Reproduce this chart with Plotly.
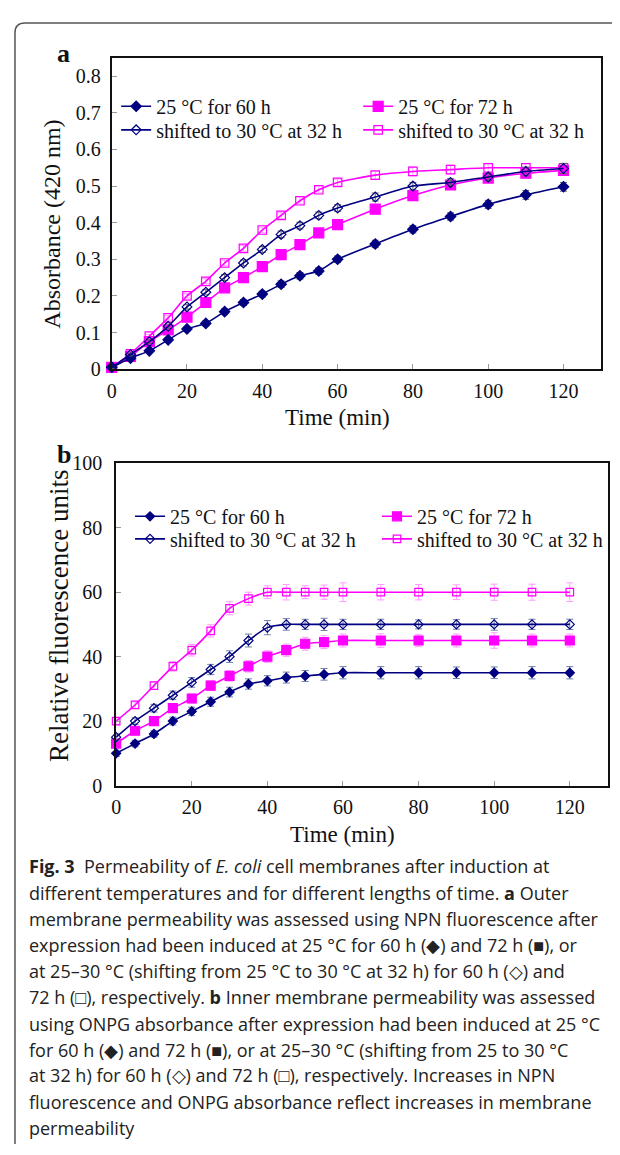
import plotly.graph_objects as go

# The page body has an 8 px default margin, so the figure is made 8 px smaller and
# every reference pixel position is shifted by 8 px.
OFF = 8
W, H = 620 - OFF, 1155 - OFF

# ---------------- data ----------------
time_min = [0, 5, 10, 15, 20, 25, 30, 35, 40, 45, 50, 55, 60, 70, 80, 90, 100, 110, 120]
series_names = ["25 °C for 60 h", "25 °C for 72 h",
                "shifted to 30 °C at 32 h", "shifted to 30 °C at 32 h"]

# panel a: absorbance (420 nm)
a_25c_60h = [0.005, 0.030, 0.050, 0.080, 0.110, 0.125, 0.157, 0.182, 0.205, 0.232, 0.255, 0.268,
             0.300, 0.342, 0.382, 0.417, 0.450, 0.476, 0.498]
a_25c_72h = [0.005, 0.035, 0.075, 0.107, 0.142, 0.182, 0.222, 0.250, 0.280, 0.313, 0.340, 0.372,
             0.395, 0.437, 0.474, 0.503, 0.522, 0.535, 0.543]
a_shift_60h = [0.005, 0.040, 0.075, 0.117, 0.170, 0.210, 0.250, 0.290, 0.327, 0.368, 0.392, 0.420,
               0.440, 0.470, 0.500, 0.510, 0.525, 0.540, 0.548]
a_shift_72h = [0.005, 0.042, 0.090, 0.140, 0.200, 0.240, 0.290, 0.330, 0.380, 0.420, 0.460, 0.490,
               0.510, 0.530, 0.540, 0.545, 0.550, 0.550, 0.550]
a_err_60h = [0.003, 0.004, 0.005, 0.006, 0.006, 0.007, 0.008, 0.008, 0.008, 0.009, 0.009, 0.009,
             0.009, 0.010, 0.010, 0.010, 0.011, 0.012, 0.012]
a_err_72h = [0.003, 0.004, 0.005, 0.006, 0.006, 0.007, 0.008, 0.008, 0.008, 0.009, 0.009, 0.009,
             0.009, 0.010, 0.010, 0.010, 0.011, 0.012, 0.012]
a_err_s60 = [0.003, 0.004, 0.005, 0.006, 0.006, 0.007, 0.008, 0.008, 0.008, 0.009, 0.009, 0.009,
             0.009, 0.011, 0.010, 0.010, 0.011, 0.012, 0.014]
a_err_s72 = [0.003, 0.004, 0.005, 0.006, 0.006, 0.007, 0.008, 0.008, 0.008, 0.009, 0.009, 0.009,
             0.009, 0.011, 0.012, 0.012, 0.012, 0.012, 0.012]

# panel b: relative fluorescence units
b_25c_60h = [10, 13, 16, 20, 23, 26, 29, 31.5, 32.5, 33.5, 34, 34.5, 35, 35, 35, 35, 35, 35, 35]
b_25c_72h = [13, 17, 20, 24, 27, 31, 34, 37, 40, 42, 44, 44.5, 45, 45, 45, 45, 45, 45, 45]
b_shift_60h = [15, 20, 24, 28, 32, 36, 40, 45, 49, 50, 50, 50, 50, 50, 50, 50, 50, 50, 50]
b_shift_72h = [20, 25, 31, 37, 42, 48, 55, 58, 60, 60, 60, 60, 60, 60, 60, 60, 60, 60, 60]
b_err_60h = [1.0, 1.0, 1.0, 1.2, 1.3, 1.4, 1.5, 1.6, 1.6, 1.7, 1.7, 1.8, 1.9, 1.9, 1.9, 1.8, 1.8, 1.9, 1.9]
b_err_72h = [1.0, 1.0, 1.0, 1.3, 1.4, 1.5, 1.6, 1.8, 1.8, 1.9, 2.0, 2.0, 2.0, 2.1, 1.9, 2.0, 2.4, 2.0, 2.0]
b_err_s60 = [1.0, 1.0, 1.2, 1.3, 1.5, 1.6, 1.8, 2.0, 2.2, 1.8, 1.6, 1.9, 1.6, 1.6, 1.4, 1.5, 1.8, 1.6, 1.6]
b_err_s72 = [1.0, 1.0, 1.2, 1.5, 1.8, 1.9, 2.0, 2.0, 2.0, 2.4, 2.0, 2.2, 2.9, 2.4, 2.4, 2.3, 2.5, 2.5, 2.9]

caption_lines = [
    "<b>Fig. 3</b>\u00a0\u00a0Permeability of <i>E. coli</i> cell membranes after induction at",
    "different temperatures and for different lengths of time. <b>a</b> Outer",
    "membrane permeability was assessed using NPN fluorescence after",
    "expression had been induced at 25 °C for 60 h (◆) and 72 h (■), or",
    "at 25–30 °C (shifting from 25 °C to 30 °C at 32 h) for 60 h (◇) and",
    "72 h (□), respectively. <b>b</b> Inner membrane permeability was assessed",
    "using ONPG absorbance after expression had been induced at 25 °C",
    "for 60 h (◆) and 72 h (■), or at 25–30 °C (shifting from 25 to 30 °C",
    "at 32 h) for 60 h (◇) and 72 h (□), respectively. Increases in NPN",
    "fluorescence and ONPG absorbance reflect increases in membrane",
    "permeability",
]

# ---------------- helpers ----------------
def px(x):
    return (x - OFF) / W

def py(y):
    return 1 - (y - OFF) / H

NAVY = "#000080"
MAG = "#FF00FF"
SERIF = "Liberation Serif"

fig = go.Figure()

def add_series(xaxis, yaxis, y, err, name, color, symbol, size, errcolor, legend):
    fig.add_trace(go.Scatter(
        x=time_min, y=y, name=name, mode="lines+markers",
        xaxis=xaxis, yaxis=yaxis, legend=legend,
        line=dict(color=color, width=1.6, shape="spline", smoothing=0.6),
        marker=dict(symbol=symbol, size=size, color=color,
                    line=dict(color=color, width=1.2)),
        error_y=dict(type="data", array=err, visible=True, color=errcolor,
                     thickness=1, width=3.5),
        cliponaxis=False,
    ))

# panel a
add_series("x", "y", a_25c_72h, a_err_72h, series_names[1], MAG, "square", 10, "#999999", "legend3")
add_series("x", "y", a_shift_72h, a_err_s72, series_names[3], MAG, "square-open", 8.5, "#ff99ff", "legend5")
add_series("x", "y", a_25c_60h, a_err_60h, series_names[0], NAVY, "diamond", 8, "#666666", "legend2")
add_series("x", "y", a_shift_60h, a_err_s60, series_names[2], NAVY, "diamond-open", 7.5, "#666666", "legend4")

# panel b
add_series("x2", "y2", b_25c_72h, b_err_72h, series_names[1], MAG, "square", 9, "#ff9cff", "legend7")
add_series("x2", "y2", b_shift_72h, b_err_s72, series_names[3], MAG, "square-open", 7.5, "#ff9cff", "legend9")
add_series("x2", "y2", b_25c_60h, b_err_60h, series_names[0], NAVY, "diamond", 7, "#6f80a8", "legend6")
add_series("x2", "y2", b_shift_60h, b_err_s60, series_names[2], NAVY, "diamond-open", 7, "#6f80a8", "legend8")

axis_common = dict(
    showline=True, mirror=True, linecolor="#111111", linewidth=2,
    ticks="inside", tickcolor="#999999", ticklen=5, tickwidth=1,
    showgrid=False, zeroline=False,
    tickfont=dict(family=SERIF, size=20, color="#111111"),
)

fig.update_layout(
    width=W, height=H,
    margin=dict(l=0, r=0, t=0, b=0),
    paper_bgcolor="white", plot_bgcolor="white",
    font=dict(family=SERIF, color="#111111"),
    xaxis=dict(domain=[px(107.5), px(601)], range=[0, 130], dtick=20, tick0=0,
               anchor="y", ticklabelstandoff=3, **axis_common),
    yaxis=dict(domain=[py(365), py(47.7)], range=[0, 0.85], dtick=0.1, tick0=0,
               anchor="x", ticklabelstandoff=5, **axis_common),
    xaxis2=dict(domain=[px(112), px(607.5)], range=[0, 130], dtick=20, tick0=0,
                anchor="y2", ticklabelstandoff=2, **axis_common),
    yaxis2=dict(domain=[py(789.5), py(461)], range=[0, 100], dtick=20, tick0=0,
                anchor="x2", ticklabelstandoff=8, **axis_common),
)

def legend_cfg(xpx, ypx):
    return dict(orientation="h", x=px(xpx), xanchor="left", y=py(ypx), yanchor="middle",
                bgcolor="rgba(0,0,0,0)",
                font=dict(family=SERIF, size=20, color="#111111"), borderwidth=0)

fig.update_layout(
    showlegend=True,
    legend2=legend_cfg(112, 97),
    legend3=legend_cfg(356, 97),
    legend4=legend_cfg(112, 121),
    legend5=legend_cfg(356, 121),
    legend6=legend_cfg(126, 515),
    legend7=legend_cfg(375, 515),
    legend8=legend_cfg(126, 538),
    legend9=legend_cfg(375, 538),
)

def ann(text, x, y, size, xref="paper", angle=0):
    return dict(text=text, x=x, y=y, xref=xref, yref="paper", xanchor="center",
                yanchor="middle", textangle=angle, showarrow=False,
                font=dict(family=SERIF, size=size, color="#111111"))

anns = [
    ann("<b>a</b>", px(59), py(43), 26),
    ann("<b>b</b>", px(59), py(452), 26),
    ann("Absorbance (420 nm)", px(47), py(217), 24, angle=-90),
    ann("Time (min)", 60, py(414), 23, xref="x"),
    ann("Relative fluorescence units", px(55), py(617), 27, angle=-90),
    ann("Time (min)", 60, py(839), 23, xref="x2"),
]
# caption
cap_y = [872, 899, 926, 952, 979, 1005, 1033, 1059, 1085, 1112, 1139]
for line, yy in zip(caption_lines, cap_y):
    anns.append(dict(text=line, x=px(22), y=py(yy), xref="paper", yref="paper",
                     xanchor="left", yanchor="middle", showarrow=False,
                     font=dict(family="Open Sans", size=18, color="#222222")))
fig.update_layout(annotations=anns)

# frame (rounded top-left corner)
x0, y0, r = 10, 12, 10
path = (f"M {px(x0)} {py(H + OFF)} L {px(x0)} {py(y0 + r)} "
        f"Q {px(x0)} {py(y0)} {px(x0 + r)} {py(y0)} L {px(620)} {py(y0)}")
fig.add_shape(type="path", path=path, xref="paper", yref="paper",
              line=dict(color="#555555", width=1.5))

fig.write_html("out.html")
